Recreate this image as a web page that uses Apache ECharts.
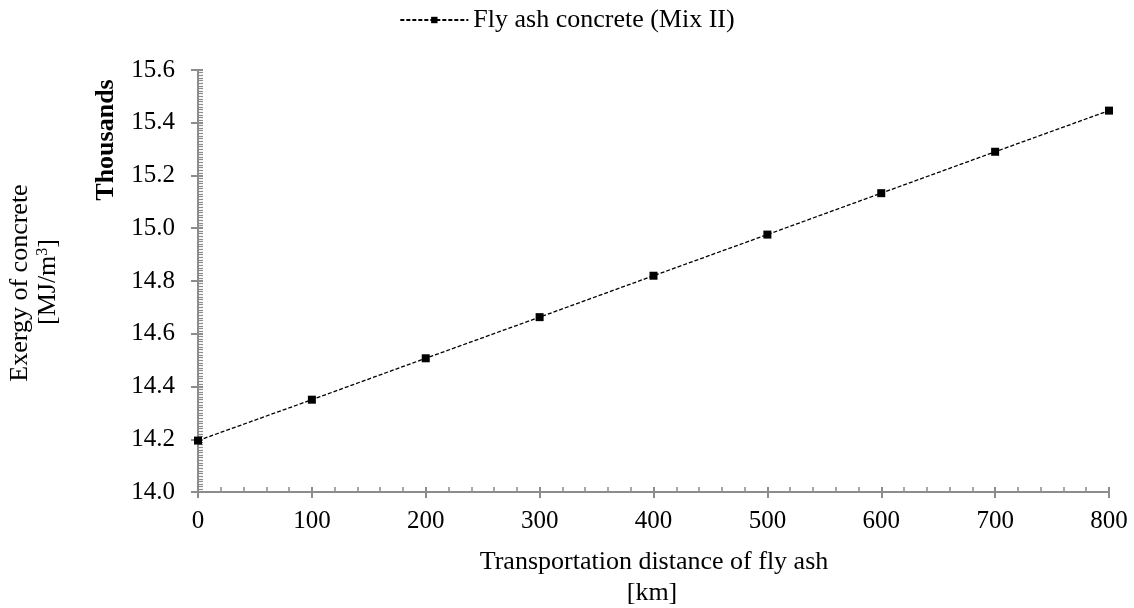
<!DOCTYPE html>
<html>
<head>
<meta charset="utf-8">
<script src="https://cdn.jsdelivr.net/npm/echarts@6/dist/echarts.min.js"></script>
<style>html,body{margin:0;padding:0;background:#fff}#c{width:1134px;height:608px}</style>
</head>
<body>
<div id="c"></div>
<script>
const seriesName = 'Fly ash concrete (Mix II)';
const distances = [0, 100, 200, 300, 400, 500, 600, 700, 800];
const exergy = [14.195, 14.350, 14.507, 14.663, 14.820, 14.976, 15.133, 15.290, 15.446];
const yTitleLine1 = 'Exergy of concrete';
const yUnitTitle = 'Thousands';
const xTitleLine1 = 'Transportation distance of fly ash';
const xTitleLine2 = '[km]';

const FONT = '"Liberation Serif", "Times New Roman", serif';
const AX = '#8c8c8c';
const FS = 26;
const chart = echarts.init(document.getElementById('c'));

const xBase = { type: 'value', min: 0, max: 800, interval: 100, position: 'bottom', splitLine: { show: false } };
const yBase = { type: 'value', min: 14, max: 15.6, interval: 0.2, position: 'left', splitLine: { show: false } };

chart.setOption({
  animation: false,
  textStyle: { fontFamily: FONT },
  legend: {
    top: 2, left: 'center',
    itemWidth: 68, itemHeight: 8,
    textStyle: { fontFamily: FONT, fontSize: FS, color: '#000' },
    data: [seriesName]
  },
  grid: { left: 198, right: 25, top: 70, bottom: 116 },
  xAxis: [
    Object.assign({}, xBase, {
      axisLine: { lineStyle: { color: AX, width: 2 } },
      axisTick: { show: true, inside: true, length: 5, lineStyle: { color: AX, width: 2 } },
      minorTick: { show: true, splitNumber: 5, length: 5, lineStyle: { color: AX, width: 1.5 } },
      axisLabel: { fontFamily: FONT, fontSize: 25, color: '#000', margin: 17 }
    }),
    Object.assign({}, xBase, {
      axisLine: { lineStyle: { color: AX, width: 2 } },
      axisTick: { show: true, inside: false, length: 6, lineStyle: { color: AX, width: 2 } },
      minorTick: { show: false },
      axisLabel: { show: false }
    })
  ],
  yAxis: [
    Object.assign({}, yBase, {
      axisLine: { show: true, lineStyle: { color: AX, width: 2 } },
      axisTick: { show: true, inside: true, length: 5, lineStyle: { color: AX, width: 2 } },
      minorTick: { show: true, splitNumber: 20, length: 5, lineStyle: { color: AX, width: 1.2 } },
      axisLabel: { fontFamily: FONT, fontSize: 25, color: '#000', margin: 23,
        formatter: v => v.toFixed(1) }
    }),
    Object.assign({}, yBase, {
      axisLine: { show: true, lineStyle: { color: AX, width: 2 } },
      axisTick: { show: true, inside: false, length: 7, lineStyle: { color: AX, width: 2 } },
      minorTick: { show: false },
      axisLabel: { show: false }
    })
  ],
  series: [{
    name: seriesName, type: 'line',
    xAxisIndex: 0, yAxisIndex: 0,
    data: distances.map((d, i) => [d, exergy[i]]),
    symbol: 'rect', symbolSize: 8,
    itemStyle: { color: '#000' },
    lineStyle: { color: '#000', width: 1.3, type: [4, 2] }
  }],
  graphic: [
    { type: 'text', x: 20, y: 283, rotation: Math.PI / 2,
      style: { text: yTitleLine1, font: FS + 'px ' + FONT, fill: '#000', align: 'center', verticalAlign: 'middle' } },
    { type: 'text', x: 48, y: 282, rotation: Math.PI / 2,
      style: { text: '[MJ/m{s|3}]', font: FS + 'px ' + FONT, fill: '#000', align: 'center', verticalAlign: 'middle',
        rich: { s: { fontSize: 16, verticalAlign: 'top', padding: [0, 0, 10, 0], fontFamily: FONT } } } },
    { type: 'text', x: 106, y: 140, rotation: Math.PI / 2,
      style: { text: yUnitTitle, font: 'bold ' + FS + 'px ' + FONT, fill: '#000', align: 'center', verticalAlign: 'middle' } },
    { type: 'text', x: 654, y: 562,
      style: { text: xTitleLine1, font: FS + 'px ' + FONT, fill: '#000', align: 'center', verticalAlign: 'middle' } },
    { type: 'text', x: 652, y: 593,
      style: { text: xTitleLine2, font: FS + 'px ' + FONT, fill: '#000', align: 'center', verticalAlign: 'middle' } }
  ]
});
</script>
</body>
</html>
